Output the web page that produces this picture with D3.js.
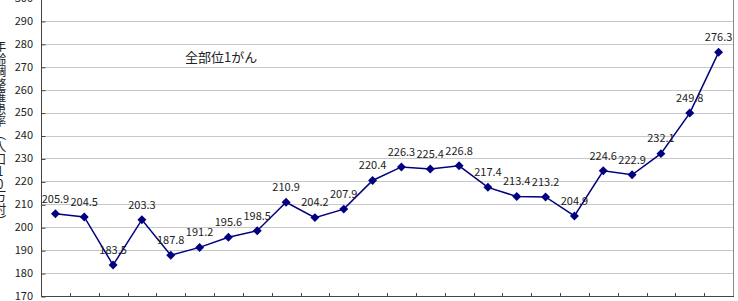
<!DOCTYPE html>
<html>
<head>
<meta charset="utf-8">
<script src="https://cdn.jsdelivr.net/npm/d3@7"></script>
<style>
  body { margin: 0; background: #fff; }
  text { font-family: "Noto Sans CJK JP", "Noto Sans", sans-serif; fill: #222; }
</style>
</head>
<body>
<div id="chart"></div>
<script>
var years = d3.range(24).map(function(i) { return "y" + i; });
var rates = [205.9, 204.5, 183.5, 203.3, 187.8, 191.2, 195.6, 198.5, 210.9, 204.2, 207.9, 220.4,
             226.3, 225.4, 226.8, 217.4, 213.4, 213.2, 204.9, 224.6, 222.9, 232.1, 249.8, 276.3];
var yTicks = d3.range(170, 301, 10);
var seriesName = "全部位1がん";
var yTitle = "年齢調整罹患率（人口10万対）";

var width = 738, height = 301;
var plotLeft = 41, plotRight = 733, plotTop = -2, plotBottom = 296;

var svg = d3.select("#chart").append("svg")
    .attr("width", width)
    .attr("height", height);

var x = d3.scalePoint()
    .domain(years)
    .range([plotLeft, plotRight])
    .padding(0.5);

var band = x.step();

var y = d3.scaleLinear()
    .domain([170, 300])
    .range([plotBottom, plotTop]);

// gridlines
svg.append("g")
    .selectAll("line")
    .data(yTicks.slice(1))
    .enter().append("line")
    .attr("x1", plotLeft)
    .attr("x2", plotRight)
    .attr("y1", function(d) { return Math.round(y(d)) + 0.5; })
    .attr("y2", function(d) { return Math.round(y(d)) + 0.5; })
    .attr("stroke", "#c8c8c8")
    .attr("stroke-width", 1);

// right border
svg.append("line")
    .attr("x1", plotRight + 0.5).attr("x2", plotRight + 0.5)
    .attr("y1", 0).attr("y2", plotBottom)
    .attr("stroke", "#888");

// y axis
var yAxis = d3.axisRight(y)
    .tickValues(yTicks)
    .tickSize(4)
    .tickFormat("");

svg.append("g")
    .attr("transform", "translate(" + (plotLeft + 0.5) + ",0.5)")
    .call(yAxis)
    .call(function(g) {
        g.select(".domain").attr("stroke", "#444").attr("d", "M0," + plotTop + "V" + plotBottom);
        g.selectAll(".tick line").attr("stroke", "#444");
    });

svg.append("g")
    .selectAll("text")
    .data(yTicks)
    .enter().append("text")
    .attr("x", plotLeft - 8)
    .attr("y", function(d) { return y(d); })
    .attr("dy", "0.35em")
    .attr("text-anchor", "end")
    .attr("font-size", "11px")
    .text(function(d) { return d; });

// x axis: ticks between categories, pointing up
var boundaries = d3.range(1, years.length);
svg.append("line")
    .attr("x1", plotLeft).attr("x2", plotRight + 1)
    .attr("y1", plotBottom + 0.5).attr("y2", plotBottom + 0.5)
    .attr("stroke", "#444");

svg.append("g")
    .selectAll("line")
    .data(boundaries)
    .enter().append("line")
    .attr("x1", function(i) { return Math.round(x(years[i]) - band / 2) + 0.5; })
    .attr("x2", function(i) { return Math.round(x(years[i]) - band / 2) + 0.5; })
    .attr("y1", plotBottom - 3)
    .attr("y2", plotBottom)
    .attr("stroke", "#444");

// vertical axis title (clipped at left edge, like the original)
svg.append("text")
    .attr("x", 0)
    .attr("y", 134)
    .attr("text-anchor", "middle")
    .attr("font-size", "12.5px")
    .style("writing-mode", "vertical-rl")
    .style("text-orientation", "upright")
    .text(yTitle);

// series line
var line = d3.line()
    .x(function(d, i) { return x(years[i]); })
    .y(function(d) { return y(d); });

svg.append("path")
    .datum(rates)
    .attr("d", line)
    .attr("fill", "none")
    .attr("stroke", "#000080")
    .attr("stroke-width", 1.5);

svg.append("g")
    .selectAll("path")
    .data(rates)
    .enter().append("path")
    .attr("d", d3.symbol().type(d3.symbolSquare).size(40))
    .attr("transform", function(d, i) { return "translate(" + x(years[i]) + "," + y(d) + ") rotate(45)"; })
    .attr("fill", "#000080");

svg.append("g")
    .selectAll("text")
    .data(rates)
    .enter().append("text")
    .attr("x", function(d, i) { return x(years[i]); })
    .attr("y", function(d) { return y(d) - 15; })
    .attr("dy", "0.35em")
    .attr("text-anchor", "middle")
    .attr("font-size", "11px")
    .text(function(d) { return d.toFixed(1); });

svg.append("text")
    .attr("x", 185)
    .attr("y", 57)
    .attr("dy", "0.35em")
    .attr("font-size", "13px")
    .text(seriesName);
</script>
</body>
</html>
